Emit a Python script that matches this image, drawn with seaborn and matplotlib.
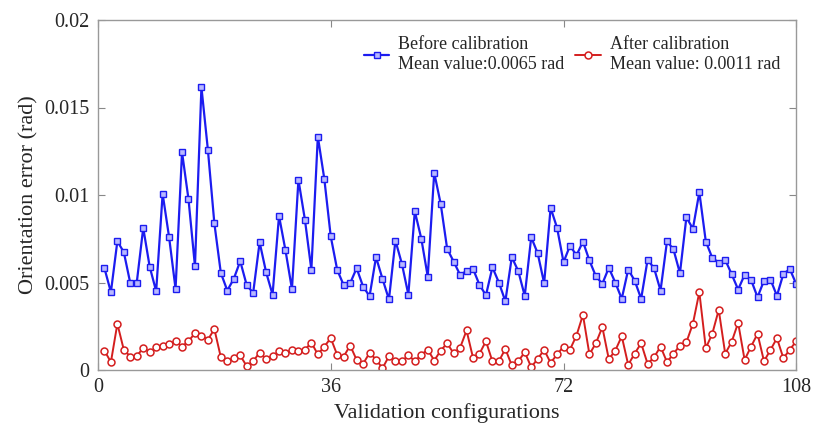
import numpy as np
import pandas as pd
import matplotlib
matplotlib.use("Agg")
import matplotlib.pyplot as plt
import seaborn as sns

# Orientation error per validation configuration (rad)
config = np.arange(1, 109)

before = [
    0.00582, 0.00445, 0.00736, 0.00673, 0.00496, 0.00500, 0.00812, 0.00590, 0.00450, 0.01007,
    0.00759, 0.00464, 0.01245, 0.00976, 0.00593, 0.01616, 0.01258, 0.00838, 0.00555, 0.00454,
    0.00521, 0.00622, 0.00485, 0.00441, 0.00730, 0.00559, 0.00431, 0.00881, 0.00683, 0.00462,
    0.01087, 0.00860, 0.00573, 0.01334, 0.01093, 0.00763, 0.00572, 0.00485, 0.00496, 0.00582,
    0.00477, 0.00422, 0.00645, 0.00521, 0.00403, 0.00740, 0.00607, 0.00431, 0.00907, 0.00751,
    0.00534, 0.01127, 0.00950, 0.00693, 0.00620, 0.00544, 0.00565, 0.00578, 0.00487, 0.00427,
    0.00587, 0.00500, 0.00393, 0.00645, 0.00565, 0.00424, 0.00759, 0.00667, 0.00496, 0.00927,
    0.00812, 0.00616, 0.00711, 0.00655, 0.00734, 0.00626, 0.00536, 0.00493, 0.00584, 0.00500,
    0.00407, 0.00574, 0.00511, 0.00407, 0.00630, 0.00582, 0.00454, 0.00736, 0.00689, 0.00553,
    0.00873, 0.00807, 0.01016, 0.00734, 0.00641, 0.00614, 0.00630, 0.00547, 0.00460, 0.00544,
    0.00515, 0.00416, 0.00511, 0.00517, 0.00424, 0.00550, 0.00576, 0.00490,
]

after = [
    0.00111, 0.00045, 0.00264, 0.00115, 0.00077, 0.00079, 0.00127, 0.00102, 0.00130, 0.00140,
    0.00147, 0.00165, 0.00134, 0.00165, 0.00210, 0.00197, 0.00173, 0.00234, 0.00073, 0.00050,
    0.00070, 0.00083, 0.00022, 0.00050, 0.00100, 0.00062, 0.00081, 0.00106, 0.00096, 0.00117,
    0.00111, 0.00115, 0.00157, 0.00089, 0.00134, 0.00182, 0.00086, 0.00077, 0.00140, 0.00058,
    0.00035, 0.00098, 0.00060, 0.00010, 0.00079, 0.00049, 0.00049, 0.00085, 0.00050, 0.00087,
    0.00117, 0.00054, 0.00111, 0.00153, 0.00095, 0.00127, 0.00226, 0.00070, 0.00093, 0.00165,
    0.00049, 0.00050, 0.00121, 0.00026, 0.00050, 0.00102, 0.00016, 0.00064, 0.00115, 0.00041,
    0.00089, 0.00134, 0.00117, 0.00197, 0.00315, 0.00090, 0.00153, 0.00245, 0.00062, 0.00111,
    0.00193, 0.00030, 0.00094, 0.00153, 0.00035, 0.00073, 0.00134, 0.00045, 0.00093, 0.00140,
    0.00159, 0.00264, 0.00445, 0.00125, 0.00207, 0.00344, 0.00093, 0.00161, 0.00270, 0.00058,
    0.00134, 0.00207, 0.00050, 0.00115, 0.00182, 0.00067, 0.00117, 0.00165,
]

x_ticks = [0, 36, 72, 108]
y_ticks = [0, 0.005, 0.01, 0.015, 0.02]
y_tick_labels = ["0", "0.005", "0.01", "0.015", "0.02"]

sns.set_style("ticks")
plt.rcParams['font.family'] = ['Liberation Serif', 'DejaVu Serif']

fig = plt.figure(figsize=(8.13, 4.30), dpi=100)
ax = fig.add_axes([0.1205, 0.1395, 0.859, 0.814])

sns.lineplot(x=config, y=before, ax=ax, color='#1c1cf0', linewidth=1.6,
             marker='s', markersize=4.5, markerfacecolor='#b8b8ff',
             markeredgecolor='#1c1cf0', markeredgewidth=1.0,
             label="Before calibration\nMean value:0.0065 rad")
sns.lineplot(x=config, y=after, ax=ax, color='#d41e1e', linewidth=1.4,
             marker='o', markersize=5, markerfacecolor='white',
             markeredgecolor='#d41e1e', markeredgewidth=1.1,
             label="After calibration\nMean value: 0.0011 rad")

ax.set_xlim(0, 108)
ax.set_ylim(0, 0.02)
ax.set_xticks(x_ticks)
ax.set_yticks(y_ticks)
ax.set_yticklabels(y_tick_labels)
ax.tick_params(direction='in', top=True, right=True, length=5,
               labelsize=14.5, color='#888888', pad=6)

for side in ax.spines.values():
    side.set_color('#999999')
    side.set_linewidth(1.0)

ax.set_xlabel("Validation configurations", fontsize=16)
ax.set_ylabel("Orientation error (rad)", fontsize=16)

ax.legend(loc='upper right', bbox_to_anchor=(1.0, 1.0), ncol=2, frameon=False,
          fontsize=13, handlelength=1.4, handletextpad=0.5, columnspacing=0.6,
          labelspacing=0.2)

fig.savefig("out.png", dpi=100)
